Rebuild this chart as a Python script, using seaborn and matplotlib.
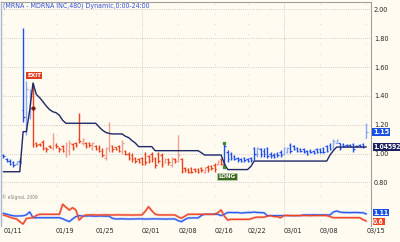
import numpy as np
import matplotlib
matplotlib.use("Agg")
import matplotlib.pyplot as plt
from matplotlib import transforms
import seaborn as sns

# ---------------- data ----------------
title = "(MRNA - MDRNA INC,480) Dynamic,0:00-24:00"
date_labels = ["01/11", "01/19", "01/25", "02/01", "02/08", "02/16", "02/22", "03/01", "03/08", "03/15"]
date_pos = [0, 16, 28, 42, 53, 64, 74, 85, 96, 110]
month_pos = [42, 85]
exit_bar = 9
entry_bar = 67

high = [1.00, 0.97, 0.96, 0.95, 0.95, 0.97,
        1.87, 1.50, 1.45, 1.49,
        1.082, 1.073, 1.094, 1.048, 1.059, 1.142, 1.073, 1.048, 1.059, 1.082,
        1.094, 1.073, 1.082, 1.279, 1.108, 1.082, 1.082, 1.082, 1.059, 1.059,
        1.036, 1.048, 1.221, 1.059, 1.048, 1.059, 1.094, 1.025, 1.013, 1.002,
        0.978, 0.967, 0.978, 1.013, 0.990, 1.013, 0.978, 1.013, 1.002, 0.967,
        0.967, 0.978, 0.967, 1.128, 0.967, 0.909, 0.898, 0.909, 0.898, 0.898,
        0.909, 0.909, 0.921, 0.921, 0.932, 0.955, 0.967, 1.073, 1.025, 1.013,
        0.990, 0.978, 0.967, 0.978, 0.967, 0.978, 1.048, 1.048, 1.036, 1.036,
        1.048, 1.013, 1.002, 1.013, 1.025, 1.048, 1.048, 1.071, 1.059, 1.048,
        1.036, 1.036, 1.025, 1.030, 1.025, 1.036, 1.036, 1.048, 1.059, 1.071,
        1.100, 1.100, 1.075, 1.071, 1.064, 1.064, 1.071, 1.059, 1.064, 1.071, 1.210]
low = [0.97, 0.94, 0.92, 0.91, 0.92, 0.93,
       1.22, 1.13, 1.24, 1.045,
       1.047, 1.052, 1.025, 1.013, 1.038, 1.025, 1.038, 1.013, 1.013, 0.978,
       0.990, 1.025, 1.047, 1.071, 1.059, 1.038, 1.047, 1.025, 1.025, 1.013,
       0.978, 0.955, 1.013, 1.013, 1.025, 1.013, 1.000, 0.990, 0.955, 0.944,
       0.932, 0.932, 0.921, 0.921, 0.932, 0.944, 0.898, 0.932, 0.909, 0.932,
       0.921, 0.909, 0.932, 0.944, 0.863, 0.874, 0.863, 0.863, 0.874, 0.863,
       0.874, 0.863, 0.874, 0.886, 0.874, 0.921, 0.921, 0.906, 0.944, 0.955,
       0.955, 0.944, 0.944, 0.944, 0.944, 0.944, 0.955, 0.978, 0.975, 0.978,
       0.967, 0.967, 0.967, 0.978, 0.978, 0.990, 1.002, 1.002, 1.025, 1.013,
       1.013, 1.002, 0.990, 1.002, 0.996, 1.002, 1.002, 1.002, 1.013, 1.025,
       1.036, 1.071, 1.025, 1.048, 1.048, 1.048, 1.013, 1.044, 1.048, 1.036, 1.106]
open_ = [0.99, 0.96, 0.95, 0.94, 0.93, 0.95,
         1.30, 1.20, 1.28, 1.40,
         1.070, 1.065, 1.080, 1.040, 1.055, 1.040, 1.060, 1.040, 1.050, 1.000,
         1.020, 1.065, 1.075, 1.100, 1.070, 1.070, 1.070, 1.040, 1.050, 1.040,
         1.020, 0.970, 1.040, 1.050, 1.045, 1.050, 1.020, 1.020, 1.000, 0.990,
         0.970, 0.960, 0.970, 1.000, 0.980, 1.000, 0.970, 1.000, 0.990, 0.940,
         0.960, 0.920, 0.960, 0.950, 0.960, 0.900, 0.890, 0.900, 0.890, 0.890,
         0.900, 0.870, 0.910, 0.915, 0.920, 0.925, 0.960, 0.920, 1.010, 1.000,
         0.980, 0.970, 0.960, 0.970, 0.960, 0.970, 1.040, 0.990, 1.030, 1.020,
         1.040, 1.000, 0.990, 1.000, 1.010, 1.000, 1.010, 1.060, 1.050, 1.040,
         1.030, 1.030, 1.020, 1.020, 1.020, 1.030, 1.030, 1.040, 1.050, 1.060,
         1.040, 1.075, 1.070, 1.065, 1.060, 1.060, 1.065, 1.055, 1.060, 1.065, 1.110]
close = [0.98, 0.95, 0.93, 0.92, 0.94, 0.94,
         1.25, 1.45, 1.42, 1.066,
         1.060, 1.060, 1.040, 1.030, 1.045, 1.100, 1.050, 1.030, 1.020, 1.060,
         1.070, 1.040, 1.060, 1.087, 1.100, 1.050, 1.060, 1.070, 1.035, 1.020,
         0.990, 1.030, 1.060, 1.030, 1.035, 1.020, 1.070, 1.000, 0.970, 0.960,
         0.950, 0.940, 0.930, 0.940, 0.950, 0.960, 0.920, 0.950, 0.930, 0.960,
         0.940, 0.970, 0.945, 0.990, 0.880, 0.885, 0.875, 0.870, 0.880, 0.870,
         0.885, 0.900, 0.890, 0.900, 0.890, 0.950, 0.930, 1.050, 0.960, 0.970,
         0.965, 0.955, 0.950, 0.955, 0.950, 0.955, 1.000, 1.040, 1.000, 1.000,
         0.980, 0.980, 0.975, 0.990, 0.990, 1.040, 1.040, 1.020, 1.035, 1.020,
         1.020, 1.010, 1.000, 1.010, 1.005, 1.010, 1.010, 1.010, 1.020, 1.030,
         1.090, 1.095, 1.040, 1.055, 1.050, 1.050, 1.030, 1.050, 1.050, 1.045, 1.150]
stop = [0.874, 0.874, 0.874, 0.874, 0.874, 0.874, 1.152, 1.152, 1.300, 1.489,
        1.410, 1.388, 1.360, 1.330, 1.305, 1.290, 1.283, 1.265, 1.230, 1.210,
        1.210, 1.210, 1.210, 1.210, 1.210, 1.210, 1.210, 1.210, 1.210, 1.185,
        1.163, 1.147, 1.140, 1.136, 1.136, 1.136, 1.136, 1.120, 1.110, 1.090,
        1.073, 1.048, 1.048, 1.048, 1.048, 1.048, 1.020, 1.020, 1.020, 1.020,
        1.020, 1.020, 1.020, 1.020, 1.020, 1.020, 1.020, 1.020, 1.020, 1.020,
        1.006, 0.990, 0.990, 0.990, 0.990, 0.990, 0.990, 0.930, 0.889, 0.889,
        0.889, 0.889, 0.889, 0.889, 0.889, 0.910, 0.948, 0.948, 0.948, 0.948,
        0.948, 0.948, 0.948, 0.948, 0.948, 0.948, 0.948, 0.948, 0.948, 0.948,
        0.948, 0.948, 0.948, 0.948, 0.948, 0.948, 0.948, 0.948, 0.948, 0.990,
        1.020, 1.045, 1.045, 1.045, 1.045, 1.045, 1.045, 1.045, 1.045, 1.045, 1.04592]
osc_blue = [1.16, 1.10, 1.03, 0.98, 0.96, 0.97, 0.98, 1.05, 1.26, 0.84,
            0.84, 0.84, 0.84, 0.84, 0.84, 0.84, 0.84, 0.84, 0.76, 0.65,
            0.56, 0.75, 0.92, 0.99, 0.96, 0.96, 0.97, 0.96, 0.95, 0.96,
            0.96, 0.95, 0.96, 0.80, 0.75, 0.75, 0.76, 0.75, 0.74, 0.75,
            0.75, 0.76, 0.75, 0.74, 0.75, 0.75, 0.76, 0.75, 0.75, 0.74,
            0.75, 0.75, 0.75, 0.62, 0.55, 0.70, 0.82, 0.82, 0.83, 0.82,
            1.00, 1.09, 1.09, 1.09, 1.10, 1.09, 0.99, 1.10, 1.22, 1.22,
            1.21, 1.22, 1.18, 1.20, 1.22, 1.22, 1.25, 1.22, 1.21, 1.20,
            0.99, 0.99, 0.99, 0.98, 0.99, 0.99, 1.00, 0.99, 0.99, 0.99,
            0.99, 1.04, 1.04, 1.04, 1.05, 1.04, 1.04, 1.04, 1.04, 1.04,
            1.25, 1.33, 1.25, 1.22, 1.22, 1.21, 1.22, 1.22, 1.21, 1.20, 1.11]
osc_red = [1.04, 0.97, 0.88, 0.80, 0.75, 0.55, 0.38, 0.78, 0.82, 0.84,
           1.00, 1.09, 1.09, 1.09, 1.09, 1.09, 1.09, 1.09, 1.82, 1.60,
           1.40, 1.57, 1.40, 0.67, 0.91, 1.04, 1.04, 1.05, 1.04, 1.04,
           1.04, 1.05, 1.04, 1.04, 1.04, 1.05, 1.04, 1.04, 1.04, 1.03,
           1.04, 1.04, 1.04, 1.30, 1.64, 1.35, 1.10, 1.04, 1.04, 1.04,
           1.04, 1.04, 1.04, 0.90, 0.80, 0.95, 1.09, 1.09, 1.09, 1.09,
           1.09, 1.09, 1.09, 1.09, 1.09, 1.20, 1.40, 0.95, 0.67, 0.72,
           0.72, 0.72, 0.72, 0.72, 0.72, 0.75, 0.84, 0.88, 0.88, 0.88,
           0.95, 0.99, 0.92, 0.92, 0.84, 1.00, 1.00, 1.00, 0.99, 1.00,
           1.00, 1.00, 1.00, 0.99, 1.00, 1.00, 1.00, 1.00, 1.00, 0.92,
           0.84, 0.84, 0.84, 0.84, 0.84, 0.84, 0.84, 0.84, 0.84, 0.70, 0.60]
exit_mark = 1.316
y_ticks = [0.80, 1.00, 1.20, 1.40, 1.60, 1.80, 2.00]

# ---------------- style ----------------
sns.set_style("white")
plt.rcParams["font.family"] = ["DejaVu Sans"]
plt.rcParams["font.stretch"] = "condensed"
BG = "#FFFBF0"
FS = 5.2

fig = plt.figure(figsize=(4.0, 2.42), dpi=100, facecolor=BG)
ax = fig.add_axes([1 / 400, 1 - 202 / 242, 370 / 400, 200 / 242], facecolor=BG)
ax2 = fig.add_axes([1 / 400, 1 - 226 / 242, 370 / 400, 24 / 242], facecolor=BG, sharex=ax)

idx = np.arange(len(high))
hi, lo, op, cl = map(np.asarray, (high, low, open_, close))

# grid
for a in (ax, ax2):
    for p in date_pos:
        if p in month_pos:
            a.axvline(p, color="#C4C4C4", lw=0.7, ls=(0, (0.8, 1.4)), zorder=0)
        else:
            a.axvline(p, color="#D0D0D0", lw=0.7, ls=(4.5, (0.8, 9.6)), zorder=0)
ax.set_yticks(y_ticks)
ax.grid(axis="y", color="#C4C4C4", lw=0.7, ls=(0, (0.8, 1.4)), zorder=0)

# OHLC bars
cols = []
for i in idx:
    short = exit_bar <= i < entry_bar
    light = cl[i] > op[i] and i != entry_bar
    if short:
        cols.append("#F29C92" if light else "#E9421C")
    else:
        cols.append("#8CA8F2" if light else "#1F4FEE")
ax.vlines(idx, lo, hi, colors=cols, lw=1.0, zorder=3)
ax.hlines(op, idx - 0.45, idx, colors=cols, lw=0.9, zorder=3)
ax.hlines(cl, idx, idx + 0.45, colors=cols, lw=0.9, zorder=3)

# trailing stop
sns.lineplot(x=idx, y=stop, ax=ax, color="#1C2868", lw=1.0, estimator=None, zorder=4)

# signal markers
ax.plot([exit_bar], [exit_mark], marker="D", ms=1.8, color="#7A1E10", zorder=5)
ax.plot([entry_bar, entry_bar], [hi[entry_bar], lo[entry_bar]], ls="none", marker="s",
        ms=1.6, color="#3C8A2A", zorder=5)
ax.annotate("EXIT", xy=(exit_bar, hi[exit_bar]), xytext=(0.8, 5.2), textcoords="offset points",
            ha="center", va="center", fontsize=4.5, color="white", weight="bold",
            bbox=dict(boxstyle="square,pad=0.2", fc="#E23C20", ec="none"), zorder=6)
ax.annotate("LONG", xy=(entry_bar, lo[entry_bar]), xytext=(1.9, -6.6), textcoords="offset points",
            ha="center", va="center", fontsize=4.5, color="white", weight="bold",
            bbox=dict(boxstyle="square,pad=0.2", fc="#3D6B22", ec="#C8DCC0", lw=0.4), zorder=6)

ax.set_xlim(-0.697, 111.42)
ax.set_ylim(0.6642, 2.0506)
ax.yaxis.tick_right()
ax.set_yticklabels([f"{v:.2f}" for v in y_ticks])
ax.tick_params(axis="y", length=0, pad=2.0, labelsize=FS, labelcolor="#2A2A2A")
ax.tick_params(axis="x", length=0, labelbottom=False)
ax.set_xlabel("")
ax.set_ylabel("")

trans = transforms.blended_transform_factory(ax.transAxes, ax.transData)
ax.text(1.006, cl[-1], f"{cl[-1]:.2f}", transform=trans, ha="left", va="center", fontsize=FS,
        color="white", weight="bold", clip_on=False, zorder=10,
        bbox=dict(boxstyle="square,pad=0.1", fc="#1A4FE6", ec="none"))
ax.text(1.006, stop[-1], f"{stop[-1]:.5f}", transform=trans, ha="left", va="center", fontsize=4.9,
        color="white", weight="bold", clip_on=False, zorder=10,
        bbox=dict(boxstyle="square,pad=0.1", fc="#1C2060", ec="none"))

# oscillator panel
sns.lineplot(x=idx, y=osc_blue, ax=ax2, color="#BCCAF5", lw=1.8, estimator=None, zorder=2)
sns.lineplot(x=idx, y=osc_red, ax=ax2, color="#F6B8AF", lw=1.8, estimator=None, zorder=2)
sns.lineplot(x=idx, y=osc_blue, ax=ax2, color="#2A58EE", lw=0.9, estimator=None, zorder=3)
sns.lineplot(x=idx, y=osc_red, ax=ax2, color="#EE4422", lw=0.9, estimator=None, zorder=3)
ax2.set_ylim(0.235, 1.985)
ax2.set_yticks([])
ax2.set_xlabel("")
ax2.set_ylabel("")
ax2.set_xticks(date_pos)
ax2.set_xticklabels(date_labels, ha="left")
ax2.tick_params(axis="x", length=0, pad=1.3, labelsize=FS, labelcolor="#2A2A2A")
ax2.set_xlim(-0.697, 111.42)
trans2 = transforms.blended_transform_factory(ax2.transAxes, ax2.transData)
ax2.text(1.006, osc_blue[-1] + 0.08, f"{osc_blue[-1]:.2f}", transform=trans2, ha="left", va="center",
         fontsize=4.9, color="white", weight="bold", clip_on=False, zorder=10,
         bbox=dict(boxstyle="square,pad=0.08", fc="#1A4FE6", ec="none"))
ax2.text(1.006, osc_red[-1] - 0.07, f"{osc_red[-1]:.1f}", transform=trans2, ha="left", va="center",
         fontsize=4.9, color="white", weight="bold", clip_on=False, zorder=10,
         bbox=dict(boxstyle="square,pad=0.08", fc="#EE4422", ec="none"))

# frames
for a in (ax, ax2):
    for s in a.spines.values():
        s.set_visible(False)
    a.spines["right"].set_visible(True)
    a.spines["right"].set_color("#A0A0A0")
    a.spines["right"].set_linewidth(0.8)
    a.spines["left"].set_visible(True)
    a.spines["left"].set_color("#A9B6D2")
    a.spines["left"].set_linewidth(1.0)
ax.spines["top"].set_visible(True)
ax.spines["top"].set_color("#A0A0A0")
ax.spines["top"].set_linewidth(0.8)
ax.spines["bottom"].set_visible(True)
ax.spines["bottom"].set_color("#B0B0B0")
ax.spines["bottom"].set_linewidth(0.8)

fig.text(3 / 400, 1 - 6.2 / 242, title, ha="left", va="center", fontsize=5.0, color="#3150D8")
fig.text(2 / 400, 1 - 197 / 242, "\u00a9 eSignal, 2009", ha="left", va="center", fontsize=3.5,
         color="#808080")

fig.savefig("out.png", dpi=100, facecolor=BG)
